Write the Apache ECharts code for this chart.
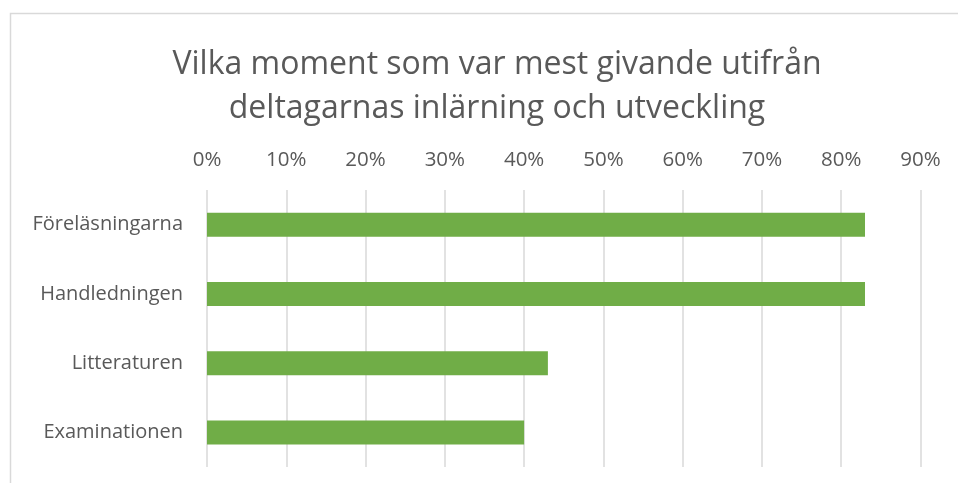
<!DOCTYPE html>
<html><head><meta charset="utf-8">
<script src="https://cdn.jsdelivr.net/npm/echarts@6/dist/echarts.min.js"></script>
<style>html,body{margin:0;padding:0;background:#fff}#c{width:958px;height:483px}</style>
</head><body><div id="c"></div>
<script>
const titleText = 'Vilka moment som var mest givande utifrån\ndeltagarnas inlärning och utveckling';
const categories = ['Föreläsningarna','Handledningen','Litteraturen','Examinationen'];
const values = [0.83, 0.83, 0.43, 0.40];
const tickMax = 0.9;
const FONT = 'Open Sans';
const chart = echarts.init(document.getElementById('c'), null, {renderer:'canvas'});
chart.setOption({
  animation:false,
  backgroundColor:'#fff',
  textStyle:{fontFamily:FONT},
  graphic:[{type:'rect',shape:{x:10.5,y:13.5,width:960,height:480},style:{fill:null,stroke:'#d9d9d9',lineWidth:1.5},silent:true}],
  title:{text:titleText,top:38,textAlign:'center',left:492,
    textStyle:{fontFamily:FONT,fontSize:32,fontWeight:'normal',color:'#595959',lineHeight:44}},
  grid:{left:207,right:958-920.5,top:190,bottom:483-467,containLabel:false},
  xAxis:{type:'value',position:'top',min:0,max:tickMax,interval:0.1,
    axisLine:{show:false},axisTick:{show:false},
    axisLabel:{fontFamily:FONT,fontSize:20.5,color:'#595959',margin:19,
      formatter:v=>Math.round(v*100)+'%'},
    splitLine:{lineStyle:{color:'#d9d9d9',width:1.5}}},
  yAxis:{type:'category',data:categories,inverse:true,
    axisLine:{show:false},axisTick:{show:false},
    axisLabel:{fontFamily:FONT,fontSize:20,color:'#595959',margin:24}},
  series:[{type:'bar',data:values,barWidth:24,itemStyle:{color:'#70ad47'}}]
});
</script></body></html>
